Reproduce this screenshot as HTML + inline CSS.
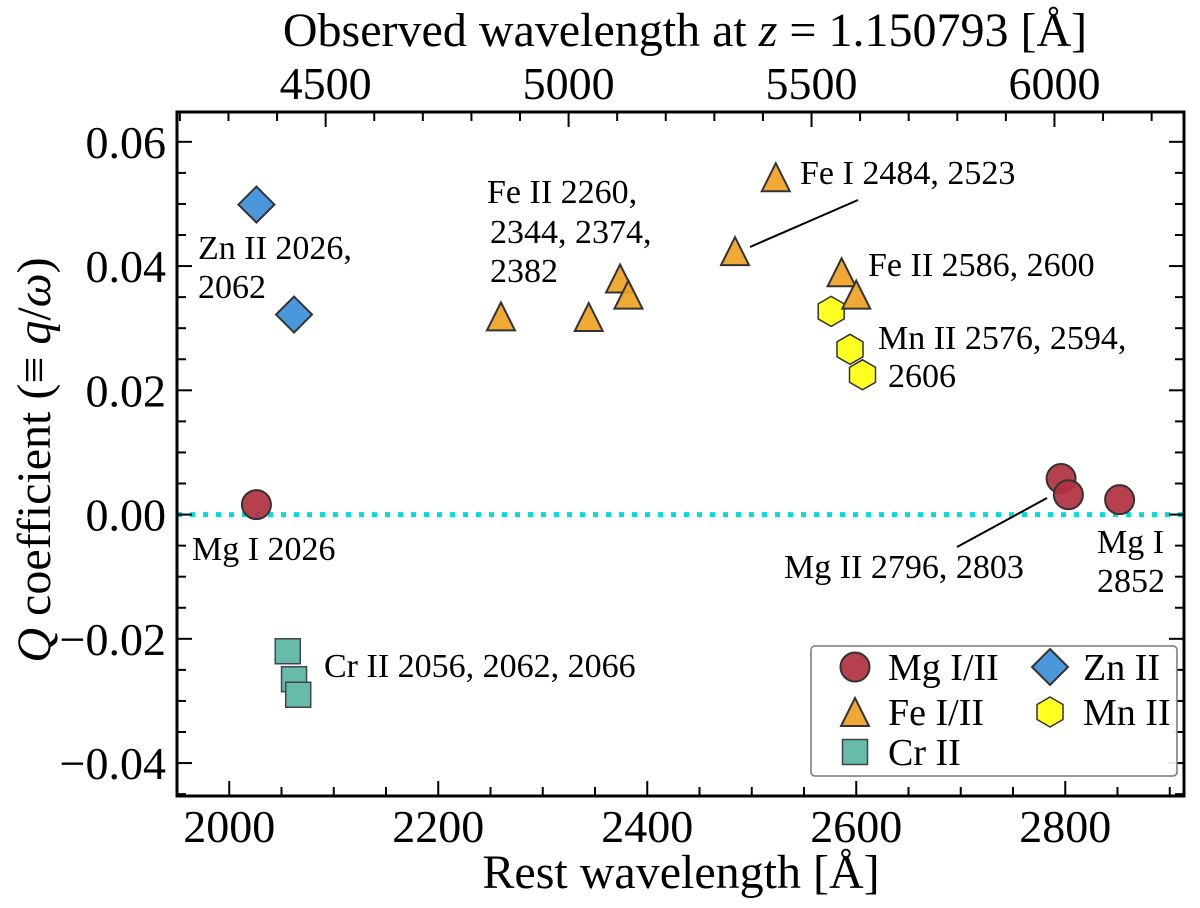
<!DOCTYPE html>
<html><head><meta charset="utf-8"><style>
html,body{margin:0;padding:0;background:#fff}
svg text{font-family:"Liberation Serif","DejaVu Serif",serif;fill:#000}
</style></head><body>
<svg id="chart" width="1200" height="903" viewBox="0 0 1200 903" xmlns="http://www.w3.org/2000/svg">
<g id="marks"></g>
<g id="axes"></g>
<g id="labels" font-size="34">
  <text x="487" y="203">Fe II 2260,</text>
  <text x="490" y="243">2344, 2374,</text>
  <text x="490" y="282">2382</text>
  <text x="800" y="184">Fe I 2484, 2523</text>
  <line x1="750" y1="247" x2="858" y2="200" stroke="#000" stroke-width="2"/>
  <text x="868" y="276">Fe II 2586, 2600</text>
  <text x="878" y="349">Mn II 2576, 2594,</text>
  <text x="888" y="387">2606</text>
  <text x="198" y="259">Zn II 2026,</text>
  <text x="198" y="298">2062</text>
  <text x="192" y="560">Mg I 2026</text>
  <text x="324" y="677">Cr II 2056, 2062, 2066</text>
  <text x="784" y="578">Mg II 2796, 2803</text>
  <line x1="957" y1="547" x2="1047" y2="498" stroke="#000" stroke-width="2"/>
  <text x="1097" y="553">Mg I</text>
  <text x="1097" y="592">2852</text>
</g>
<g id="legend">
  <rect x="811" y="646" width="366" height="130" rx="4" fill="#fff" fill-opacity="0.9" stroke="#777" stroke-width="1.5"/>
</g>
</svg>
<script>
const mgW=[2026,2796,2803,2852]; const mgQ=[0.0016,0.0058,0.0032,0.0024];
const feW=[2260,2344,2374,2382,2484,2523,2586,2600]; const feQ=[0.0319,0.0318,0.0380,0.0354,0.0424,0.0543,0.0390,0.0354];
const crW=[2056,2062,2066]; const crQ=[-0.0220,-0.0265,-0.0290];
const znW=[2026,2062]; const znQ=[0.0499,0.0322];
const mnW=[2576,2594,2606]; const mnQ=[0.0327,0.0266,0.0225];
const xTicks=[2000,2200,2400,2600,2800];
const yTicks=[-0.04,-0.02,0.00,0.02,0.04,0.06];
const yTickLabels=["\u22120.04","\u22120.02","0.00","0.02","0.04","0.06"];
const obsTicks=[4500,5000,5500,6000];
const z=1.150793;

const L=177,R=1184,T=112,B=796;
const x0=1950,x1=x0+(R-L)/1.045;
const yTop=0.0648,yBot=-0.0453;
const X=w=>L+(w-x0)/(x1-x0)*(R-L);
const Y=q=>T+(yTop-q)/(yTop-yBot)*(B-T);
const NS="http://www.w3.org/2000/svg";
function mk(tag,attrs,parent){const e=document.createElementNS(NS,tag);for(const k in attrs)e.setAttribute(k,attrs[k]);parent.appendChild(e);return e;}
const marks=document.getElementById('marks'),axes=document.getElementById('axes'),legend=document.getElementById('legend');

function circle(cx,cy,p){return mk('circle',{cx:cx,cy:cy,r:14.5,fill:'#b0303f','fill-opacity':0.92,stroke:'#333','stroke-width':2},p);}
function tri(cx,cy,p){const h=14;return mk('polygon',{points:`${cx},${cy-h} ${cx+14},${cy+h} ${cx-14},${cy+h}`,fill:'#f0a020','fill-opacity':0.9,stroke:'#333','stroke-width':2},p);}
function sq(cx,cy,p){return mk('rect',{x:cx-12.5,y:cy-12.5,width:25,height:25,fill:'#66bbaa',stroke:'#444','stroke-width':1.5},p);}
function dia(cx,cy,p){const r=18;return mk('polygon',{points:`${cx},${cy-r} ${cx+r},${cy} ${cx},${cy+r} ${cx-r},${cy}`,fill:'#4a97dc',stroke:'#333','stroke-width':2},p);}
function hex(cx,cy,p){const r=15;let pts=[];for(let i=0;i<6;i++){const a=Math.PI/6+i*Math.PI/3;pts.push((cx+r*Math.cos(a)).toFixed(1)+','+(cy+r*Math.sin(a)).toFixed(1));}return mk('polygon',{points:pts.join(' '),fill:'#ffff22',stroke:'#333','stroke-width':1.5},p);}

const zl=mk('line',{x1:L,x2:R,y1:Y(0),y2:Y(0),stroke:'#00dddd','stroke-width':5,'stroke-dasharray':'5 8'},marks);



crW.forEach((w,i)=>{const e=sq(X(w),Y(crQ[i]),marks);});
znW.forEach((w,i)=>{const e=dia(X(w),Y(znQ[i]),marks);});
mnW.forEach((w,i)=>{const e=hex(X(w),Y(mnQ[i]),marks);});
feW.forEach((w,i)=>{const e=tri(X(w),Y(feQ[i]),marks);});
mgW.forEach((w,i)=>{const e=circle(X(w),Y(mgQ[i]),marks);});

const fr=mk('rect',{x:L,y:T,width:R-L,height:B-T,fill:'none',stroke:'#000','stroke-width':3},axes);


for(let w=2000;w<=x1;w+=50){const maj=w%200===0;const l=maj?15:9;
 mk('line',{x1:X(w),x2:X(w),y1:B,y2:B-l,stroke:'#000','stroke-width':2},axes);}
xTicks.forEach(w=>{const t=mk('text',{x:X(w),y:842,'font-size':46,'text-anchor':'middle'},axes);t.textContent=w;
 });
for(let o=4200;o<=6300;o+=100){const w=o/(1+z);if(w<x0||w>x1)continue;const maj=o%500===0;const l=maj?15:9;
 mk('line',{x1:X(w),x2:X(w),y1:T,y2:T+l,stroke:'#000','stroke-width':2},axes);}
obsTicks.forEach(o=>{const t=mk('text',{x:X(o/(1+z)),y:99,'font-size':46,'text-anchor':'middle'},axes);t.textContent=o;
 });
for(let k=-9;k<=12;k++){const q=k*0.005;if(q<yBot||q>yTop)continue;const maj=k%4===0;const l=maj?15:9;
 mk('line',{x1:L,x2:L+l,y1:Y(q),y2:Y(q),stroke:'#000','stroke-width':2},axes);
 mk('line',{x1:R,x2:R-l,y1:Y(q),y2:Y(q),stroke:'#000','stroke-width':2},axes);}
yTicks.forEach((q,i)=>{const t=mk('text',{x:166,y:Y(q)+16,'font-size':46,'text-anchor':'end'},axes);t.textContent=yTickLabels[i];
 });
let t=mk('text',{x:681,y:888,'font-size':48,'text-anchor':'middle'},axes);t.textContent='Rest wavelength [Å]';

t=mk('text',{x:685,y:46,'font-size':48,'text-anchor':'middle'},axes);
t.innerHTML='Observed wavelength at <tspan font-style="italic">z</tspan> = 1.150793 [Å]';

t=mk('text',{x:0,y:0,'font-size':48,'text-anchor':'middle',transform:'translate(50,460) rotate(-90)'},axes);
t.innerHTML='<tspan font-style="italic">Q</tspan> coefficient (≡ <tspan font-style="italic">q</tspan>/<tspan font-style="italic">ω</tspan>)';


const entries=[[circle,855,667,'Mg I/II'],[tri,855,712,'Fe I/II'],[sq,855,752,'Cr II'],[dia,1050,667,'Zn II'],[hex,1050,712,'Mn II']];
entries.forEach(en=>{const g=mk('g',{},legend);
 en[0](en[1],en[2],g);const tx=mk('text',{x:en[1]+33,y:en[2]+13,'font-size':38},g);tx.textContent=en[3];});
</script>
</body></html>
